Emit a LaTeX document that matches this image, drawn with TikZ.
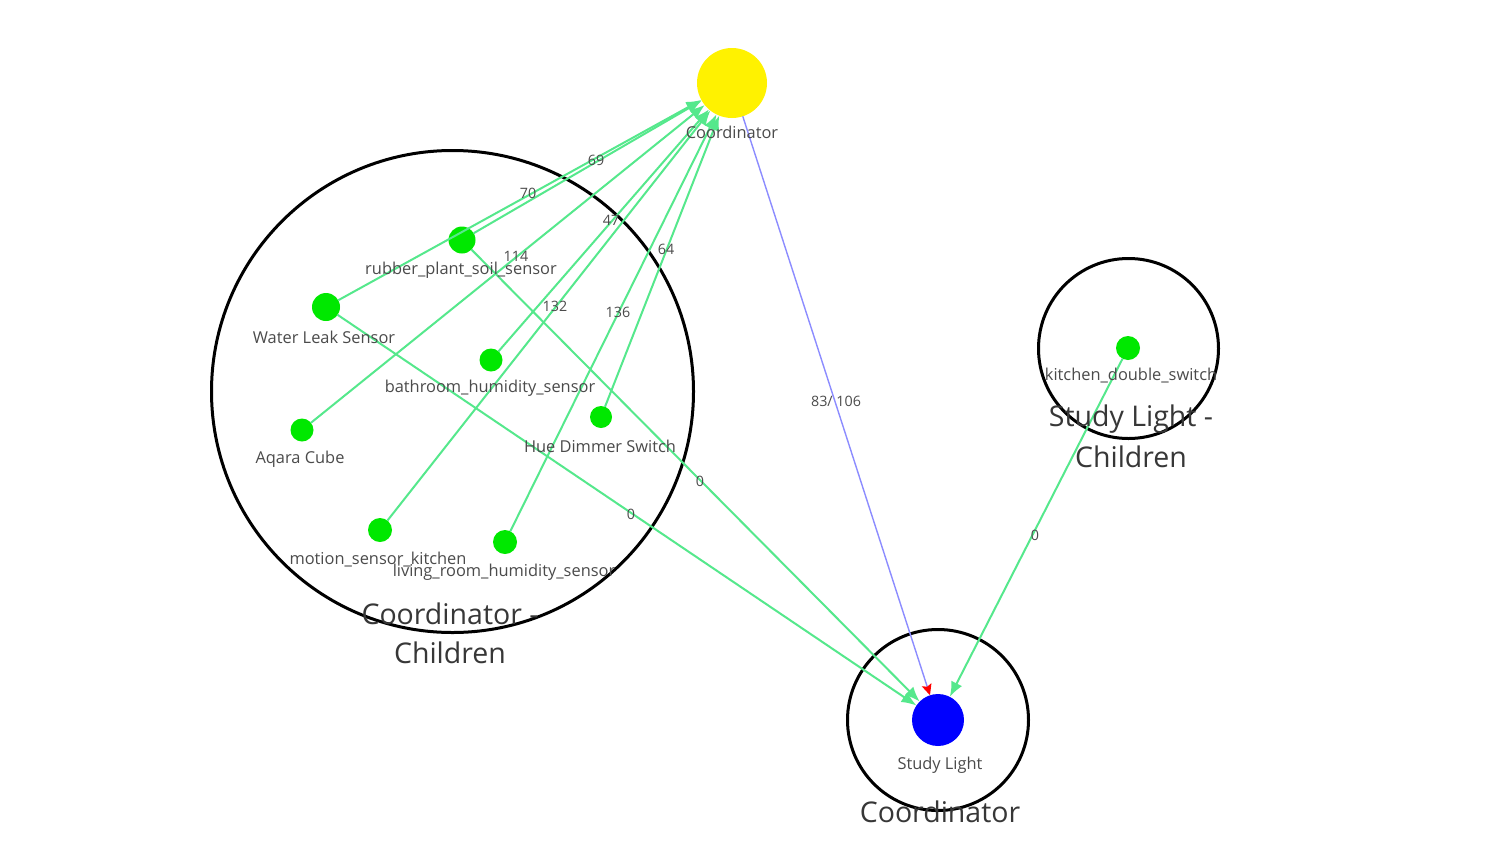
\documentclass[tikz,border=0pt]{standalone}
\usepackage{fontspec}
\setmainfont{Open Sans}
\usetikzlibrary{arrows.meta}
\definecolor{edgegreen}{RGB}{85,232,140}
\definecolor{nodegreen}{RGB}{0,232,0}
\definecolor{linkblue}{RGB}{140,140,255}
\definecolor{txt}{RGB}{75,75,75}
\definecolor{bigtxt}{RGB}{55,55,55}
\begin{document}
\begin{tikzpicture}[x=1pt,y=-1pt,
  dev/.style={circle,fill=nodegreen,inner sep=0pt,outer sep=0pt,minimum size=#1},
  grp/.style={circle,draw=black,line width=3pt,inner sep=0pt,outer sep=0pt,minimum size=#1},
  link/.style={draw=edgegreen,line width=2pt,-{Latex[length=15pt,width=12pt]}},
  coordlink/.style={draw=linkblue,line width=1.4pt,-{Stealth[length=11pt,width=10pt,color=red,inset=2pt]}},
  lbl/.style={text=txt,font=\fontsize{16.4}{19}\selectfont,inner sep=0pt},
  elbl/.style={text=txt,font=\fontsize{14.3}{17}\selectfont,inner sep=0pt},
  glbl/.style={text=bigtxt,font=\fontsize{28.5}{33}\selectfont,inner sep=0pt}
]
\useasboundingbox (0,0) rectangle (1500,844);
\fill[white] (0,0) rectangle (1500,844);

% group circles
\node[grp=482pt] (g1) at (452.5,391.5) {};
\node[grp=180pt] (g2) at (1128.5,348.5) {};
\node[grp=181pt] (g3) at (938,720) {};

% devices
\node[dev=70pt, fill=yellow] (coord) at (732,83) {};
\node[dev=52pt, fill=blue] (study) at (938,720) {};
\node[dev=27pt] (rubber) at (462,240) {};
\node[dev=28pt] (leak) at (326,307) {};
\node[dev=23pt] (bath) at (491,360) {};
\node[dev=22pt] (hue) at (601,417) {};
\node[dev=23pt] (aqara) at (302,430) {};
\node[dev=24pt] (motion) at (380,530) {};
\node[dev=24pt] (living) at (505,542) {};
\node[dev=24pt] (kitchen) at (1128,348) {};

% connectors
\draw[link] (rubber) -- (coord);
\draw[link] (leak) -- (coord);
\draw[link] (aqara) -- (coord);
\draw[link] (bath) -- (coord);
\draw[link] (motion) -- (coord);
\draw[link] (living) -- (coord);
\draw[link] (hue) -- (coord);
\draw[link] (leak) -- (study);
\draw[link] (rubber) -- (study);
\draw[link] (kitchen) -- (study);
\draw[coordlink] (coord) -- (study);

% device labels
\node[lbl] (lcoord) at (732,132) {Coordinator};
\node[lbl] (lrubber) at (461,270) {rubber\_plant\_soil\_sensor};
\node[lbl] (lleak) at (324,337) {Water Leak Sensor};
\node[lbl] (lbath) at (490,388) {bathroom\_humidity\_sensor};
\node[lbl] (lhue) at (600,446) {Hue Dimmer Switch};
\node[lbl] (laqara) at (300,459) {Aqara Cube};
\node[lbl] (lmotion) at (378,560) {motion\_sensor\_kitchen};
\node[lbl] (lliving) at (504,572) {living\_room\_humidity\_sensor};
\node[lbl] (lkitchen) at (1131,376) {kitchen\_double\_switch};
\node[lbl] (lstudy) at (940,765) {Study Light};

% group labels
\node[glbl] (lg1a) at (450,614) {Coordinator -};
\node[glbl] (lg1b) at (450,653) {Children};
\node[glbl] (lg2a) at (1131,419) {Study Light -};
\node[glbl] (lg2b) at (1131,457) {Children};
\node[glbl] (lg3) at (940,812) {Coordinator};

% connector labels
\node[elbl] (e69) at (596,160) {69};
\node[elbl] (e70) at (528,193) {70};
\node[elbl] (e47) at (611,220) {47};
\node[elbl] (e64) at (666,249) {64};
\node[elbl] (e114) at (516,256) {114};
\node[elbl] (e132) at (555,306) {132};
\node[elbl] (e136) at (618,312) {136};
\node[elbl] (e83) at (836,401) {83/ 106};
\node[elbl] (e0a) at (700,481) {0};
\node[elbl] (e0b) at (631,514) {0};
\node[elbl] (e0c) at (1035,535) {0};
\end{tikzpicture}
\end{document}
